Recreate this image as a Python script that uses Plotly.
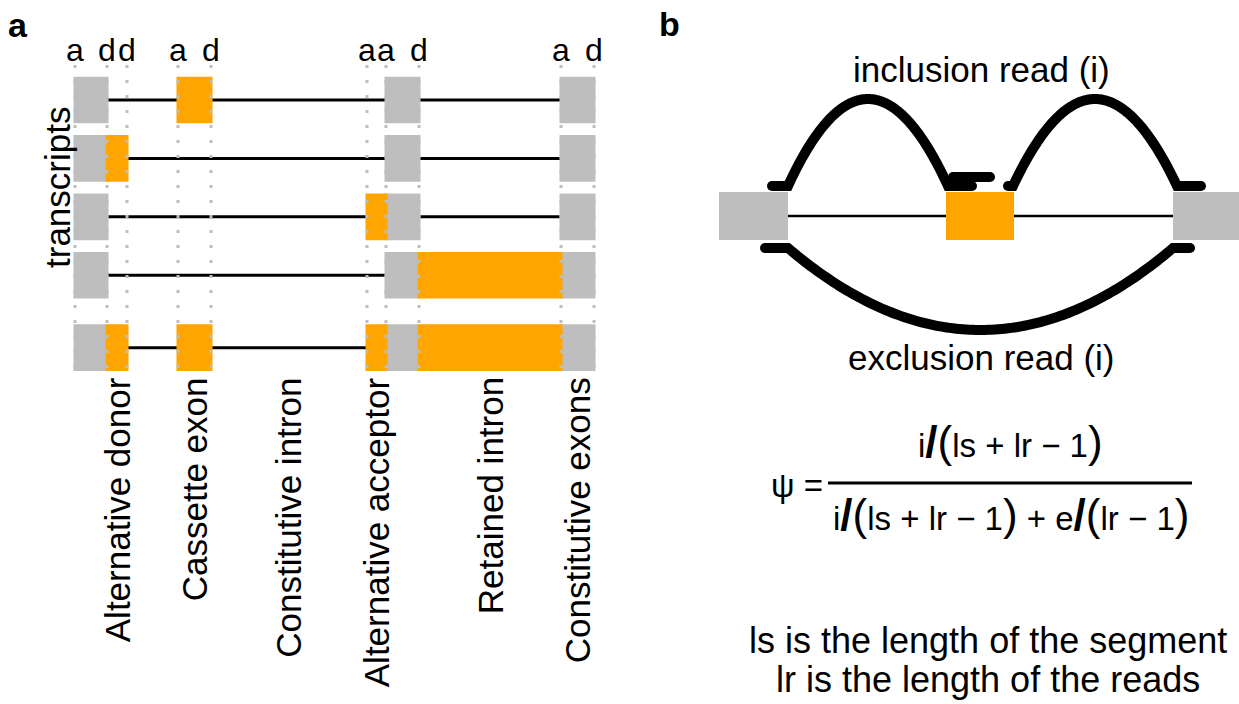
import numpy as np
import plotly.graph_objects as go

W, H = 1239, 704
FONT = "Liberation Sans, Arial, Helvetica, sans-serif"
GREY = "#BEBEBE"
ORANGE = "#FFA500"
BLACK = "#000000"

# ---------------- panel a: transcript structures ----------------
# splice-site positions (arbitrary genomic units) and their kind
site_pos = [0, 32, 52, 103, 136, 292, 311, 344, 486, 519]
site_kind = ["a", "d", "d", "a", "d", "a", "a", "d", "a", "d"]

# vertical position of each transcript (last one set apart)
row_pos = [0, 1, 2, 3, 4.24]
# exons per transcript: (start site index, end site index, alternative?)
transcript_exons = [
    [(0, 1, False), (3, 4, True), (6, 7, False), (8, 9, False)],
    [(0, 1, False), (1, 2, True), (6, 7, False), (8, 9, False)],
    [(0, 1, False), (5, 6, True), (6, 7, False), (8, 9, False)],
    [(0, 1, False), (6, 7, False), (7, 8, True), (8, 9, False)],
    [(0, 1, False), (1, 2, True), (3, 4, True), (5, 6, True),
     (6, 7, False), (7, 8, True), (8, 9, False)],
]

# event labels and the pair of sites they sit between
event_names = ["Alternative donor", "Cassette exon", "Constitutive intron",
               "Alternative acceptor", "Retained intron", "Constitutive exons"]
event_sites = [(1, 2), (3, 4), (4, 5), (5, 6), (7, 8), (8, 9)]

# ---------------- panel b: read types ----------------
# exons: (start, end, alternative?)
b_exons = [(0, 69, False), (227, 295, True), (454, 530, False)]
# reads as aligned blocks; consecutive blocks are joined by a junction arc
inclusion_reads = [[(53, 69), (229, 253)], [(289, 294), (458, 482)]]
inclusion_extra = [(234, 271)]
exclusion_reads = [[(46, 69), (454, 471)]]
inclusion_level, inclusion_arc = 30, 87
extra_level = 39
exclusion_level, exclusion_arc = -32, -82

fig = go.Figure()
shapes = []
annotations = []

EXON_HALF = 0.4
PAD = 1.5

# intron backbones (drawn first, hidden beneath exons)
for r, exons in zip(row_pos, transcript_exons):
    lo = min(site_pos[s] for s, e, _ in exons)
    hi = max(site_pos[e] for s, e, _ in exons)
    shapes.append(dict(type="line", xref="x", yref="y", x0=lo, x1=hi, y0=r, y1=r,
                       line=dict(color=BLACK, width=3), layer="below"))

# exon boxes: constitutive (grey) first, alternative (orange) on top
for r, exons in zip(row_pos, transcript_exons):
    for s, e, alt in sorted(exons, key=lambda t: t[2]):
        shapes.append(dict(type="rect", xref="x", yref="y",
                           x0=site_pos[s] - PAD, x1=site_pos[e] + PAD,
                           y0=r - EXON_HALF, y1=r + EXON_HALF,
                           fillcolor=ORANGE if alt else GREY,
                           line=dict(width=0), layer="below"))

# dotted guides through every splice site
for p in site_pos:
    fig.add_trace(go.Scatter(x=[p, p], y=[-0.6, row_pos[-1] + EXON_HALF],
                             mode="lines", xaxis="x", yaxis="y",
                             line=dict(color=GREY, width=3, dash="3px,12px"),
                             hoverinfo="skip", showlegend=False))

# site letters above
for p, k in zip(site_pos, site_kind):
    annotations.append(dict(xref="x", yref="y", x=p, y=-0.86, text=k,
                            showarrow=False, xanchor="center", yanchor="middle",
                            font=dict(family=FONT, size=32, color=BLACK)))

# event labels below, rotated
for name, (s, e) in zip(event_names, event_sites):
    annotations.append(dict(xref="x", yref="y", x=(site_pos[s] + site_pos[e]) / 2,
                            y=row_pos[-1] + EXON_HALF + 0.08, text=name,
                            textangle=-90, showarrow=False,
                            xanchor="center", yanchor="top",
                            font=dict(family=FONT, size=35, color=BLACK)))

annotations.append(dict(xref="paper", yref="paper", x=57 / W, y=1 - 188 / H,
                        text="transcripts", textangle=-90, showarrow=False,
                        xanchor="center", yanchor="middle",
                        font=dict(family=FONT, size=35, color=BLACK)))

# ---------------- panel b drawing ----------------
shapes.append(dict(type="line", xref="x2", yref="y2",
                   x0=b_exons[0][1], x1=b_exons[-1][0], y0=0, y1=0,
                   line=dict(color=BLACK, width=2.5), layer="below"))
for s, e, alt in b_exons:
    shapes.append(dict(type="rect", xref="x2", yref="y2", x0=s, x1=e,
                       y0=-24, y1=24, fillcolor=ORANGE if alt else GREY,
                       line=dict(width=0), layer="below"))


def read_path(blocks, level, arc):
    xs, ys = [], []
    for i, (s, e) in enumerate(blocks):
        xs += [s, e]
        ys += [level, level]
        if i + 1 < len(blocks):
            nxt = blocks[i + 1][0]
            t = np.linspace(0, 1, 120)[1:-1]
            xs += list(e + (nxt - e) * t)
            ys += list(level + arc * 4 * t * (1 - t))
    return xs, ys


def add_read(blocks, level, arc):
    xs, ys = read_path(blocks, level, arc)
    fig.add_trace(go.Scatter(x=xs, y=ys, mode="lines", xaxis="x2", yaxis="y2",
                             line=dict(color=BLACK, width=10, simplify=False),
                             hoverinfo="skip", showlegend=False))
    fig.add_trace(go.Scatter(x=[xs[0], xs[-1]], y=[ys[0], ys[-1]], mode="markers",
                             xaxis="x2", yaxis="y2",
                             marker=dict(color=BLACK, size=10, line=dict(width=0)),
                             hoverinfo="skip", showlegend=False))


for rd in inclusion_reads:
    add_read(rd, inclusion_level, inclusion_arc)
add_read(inclusion_extra, extra_level, 0)
for rd in exclusion_reads:
    add_read(rd, exclusion_level, exclusion_arc)


def txt(x, y, text, size=35, **kw):
    d = dict(xref="paper", yref="paper", x=x / W, y=1 - y / H, text=text,
             showarrow=False, xanchor="center", yanchor="middle", borderpad=0,
             font=dict(family=FONT, size=size, color=BLACK))
    d.update(kw)
    annotations.append(d)


txt(981, 70, "inclusion read (i)")
txt(981, 357, "exclusion read (i)")

# psi formula
BIG = '<span style="font-size:44px">'
SL = f"{BIG}<b>/</b>(</span>"
CL = f"{BIG})</span>"
num = f"i{SL}ls + lr − 1{CL}"
den = f"i{SL}ls + lr − 1{CL} + e{SL}lr − 1{CL}"
txt(797, 485, "ψ =", size=33)
txt(1010, 441, num, size=33)
txt(1011, 514, den, size=33)
shapes.append(dict(type="line", xref="paper", yref="paper",
                   x0=828 / W, x1=1192 / W, y0=1 - 483 / H, y1=1 - 483 / H,
                   line=dict(color=BLACK, width=3)))

txt(988, 640, "ls is the length of the segment", size=36)
txt(988, 679, "lr is the length of the reads", size=36)

# panel letters
txt(18, 25, "<b>a</b>", size=34)
txt(669, 24, "<b>b</b>", size=34)

hidden = dict(visible=False, showgrid=False, zeroline=False, fixedrange=True)
fig.update_layout(
    width=W, height=H,
    margin=dict(l=0, r=0, t=0, b=0),
    paper_bgcolor="white", plot_bgcolor="white",
    showlegend=False,
    xaxis=dict(domain=[0, 0.5], range=[-75, 544.5], **hidden),
    yaxis=dict(domain=[0, 1], range=[10.34, -1.712], **hidden),
    xaxis2=dict(domain=[0.5, 1], range=[-99.5, 520], **hidden),
    yaxis2=dict(domain=[0, 1], range=[-488, 216], **hidden),
    shapes=shapes,
    annotations=annotations,
)

fig.write_html("out.html")
